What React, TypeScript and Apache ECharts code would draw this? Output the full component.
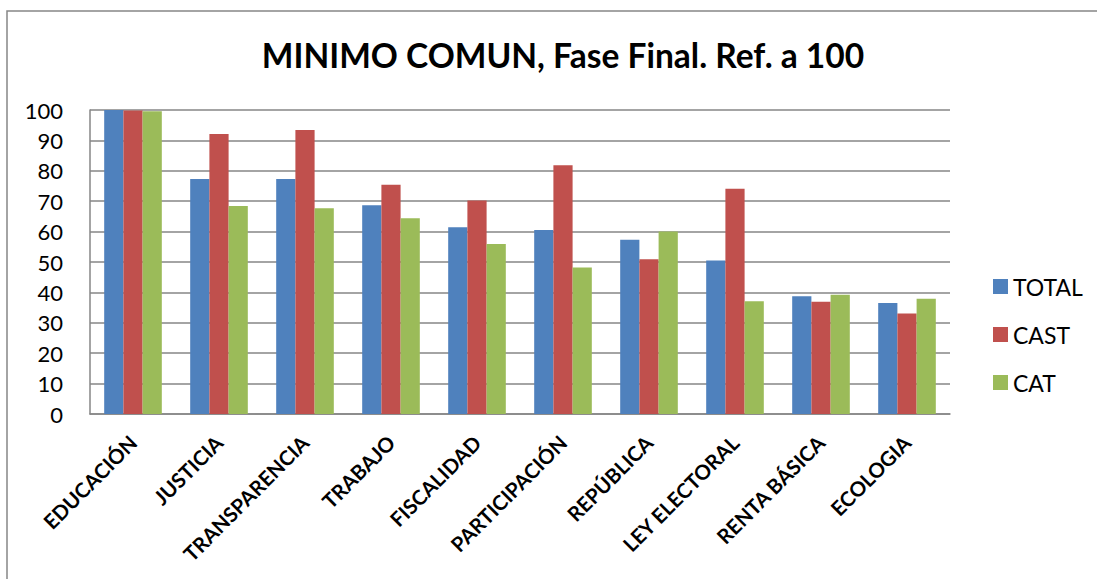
import React, { useEffect, useRef } from "react";
import * as echarts from "echarts";

const categories = [
  "EDUCACIÓN",
  "JUSTICIA",
  "TRANSPARENCIA",
  "TRABAJO",
  "FISCALIDAD",
  "PARTICIPACIÓN",
  "REPÚBLICA",
  "LEY ELECTORAL",
  "RENTA BÁSICA",
  "ECOLOGIA",
];
const totalValues = [100, 77.3, 77.3, 68.7, 61.4, 60.5, 57.3, 50.5, 38.7, 36.5];
const castValues = [99.8, 92.1, 93.4, 75.4, 70.2, 81.8, 50.9, 74.1, 36.9, 33.1];
const catValues = [99.6, 68.4, 67.7, 64.4, 55.9, 48.2, 60.0, 37.1, 39.2, 37.9];
const seriesNames = ["TOTAL", "CAST", "CAT"];
const titleText = "MINIMO COMUN, Fase Final. Ref. a 100";

const FONT = "Lato, 'Open Sans', sans-serif";

export default function App() {
  const ref = useRef<HTMLDivElement>(null);
  useEffect(() => {
    if (!ref.current) return;
    const chart = echarts.init(ref.current, undefined, { renderer: "svg" });
    const colors = ["#4F81BD", "#C0504D", "#9BBB59"];
    const data = [totalValues, castValues, catValues];
    chart.setOption({
      animation: false,
      backgroundColor: "#ffffff",
      title: {
        text: titleText,
        left: 558,
        textAlign: "center",
        top: 33,
        textStyle: {
          fontFamily: FONT,
          fontWeight: "bold",
          fontSize: 33.5,
          color: "#000",
        },
      },
      graphic: [
        {
          type: "rect",
          shape: { x: 7, y: 11, width: 1300, height: 800 },
          style: { fill: "none", stroke: "#868686", lineWidth: 1.5 },
          silent: true,
          z: -10,
        },
      ],
      legend: {
        orient: "vertical",
        left: 993,
        top: 275,
        padding: 0,
        itemWidth: 15,
        itemHeight: 15,
        itemGap: 25,
        icon: "rect",
        textStyle: {
          fontFamily: FONT,
          fontSize: 23,
          color: "#000",
          lineHeight: 23,
        },
        data: seriesNames,
      },
      grid: { left: 90, right: 147, top: 110, bottom: 165, containLabel: false },
      xAxis: {
        type: "category",
        data: categories,
        axisLine: { show: true, lineStyle: { color: "#868686", width: 1.5 } },
        axisTick: { show: false },
        axisLabel: {
          interval: 0,
          rotate: 45,
          margin: 25,
          fontFamily: FONT,
          fontWeight: "bold",
          fontSize: 20.5,
          color: "#000",
        },
      },
      yAxis: {
        type: "value",
        min: 0,
        max: 100,
        interval: 10,
        axisLine: { show: true, lineStyle: { color: "#868686", width: 1.5 } },
        axisTick: { show: false },
        splitLine: { show: true, lineStyle: { color: "#868686", width: 1.5 } },
        axisLabel: {
          margin: 27,
          fontFamily: FONT,
          fontSize: 22,
          color: "#000",
        },
      },
      series: seriesNames.map((name, i) => ({
        name,
        type: "bar",
        data: data[i],
        barGap: "0%",
        barCategoryGap: "33%",
        itemStyle: { color: colors[i] },
      })),
    });
    return () => chart.dispose();
  }, []);
  return (
    <div
      ref={ref}
      style={{ position: "fixed", left: 0, top: 0, width: 1097, height: 579 }}
    />
  );
}
